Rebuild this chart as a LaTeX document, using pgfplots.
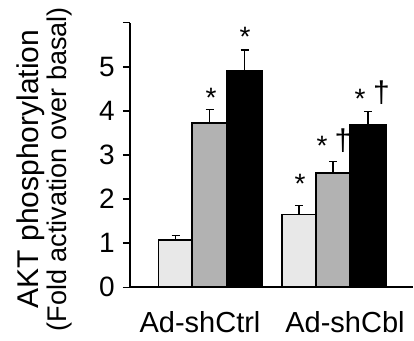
\documentclass[border=0pt]{standalone}
\usepackage{pgfplots}
\pgfplotsset{compat=1.18}
\usepackage{fontspec}
\setmainfont{Liberation Sans}
\definecolor{lightbar}{HTML}{E8E8E8}
\definecolor{midbar}{HTML}{B2B2B2}
\begin{document}
\begin{tikzpicture}
\path[use as bounding box] (0,0) rectangle (414bp,341bp);
\begin{axis}[
  at={(130bp,53.7bp)}, anchor=south west,
  scale only axis, width=283bp, height=264.6bp,
  xmin=130, xmax=413, ymin=0, ymax=6,
  axis x line*=bottom, axis y line*=left,
  axis line style={line width=1.8bp, -},
  ytick={0,1,2,3,4,5,6}, yticklabels={0,1,2,3,4,5,},
  tick align=outside, major tick length=7bp,
  ytick style={line width=1.5bp, black},
  yticklabel style={font=\fontsize{28bp}{28bp}\selectfont, inner sep=0pt, anchor=east, xshift=-8bp},
  xtick={200,345}, xticklabels={Ad-shCtrl,Ad-shCbl},
  xtick style={draw=none},
  xticklabel style={font=\fontsize{29bp}{29bp}\selectfont, inner sep=0pt, anchor=base, yshift=-37.7bp},
  ylabel={AKT phosphorylation},
  ylabel style={font=\fontsize{30bp}{30bp}\selectfont, inner sep=0pt, at={(axis description cs:-0.3233,0.447)}, anchor=base, rotate=0},
  clip=false,
  /pgf/number format/assume math mode=true,
  error bars/y dir=plus, error bars/y explicit,
  error bars/error bar style={line width=1.5bp, black},
  error bars/error mark options={rotate=90, mark size=4bp, line width=1.5bp, black},
]
\addplot[ybar, bar width=34.4, bar shift=0, fill=lightbar, draw=black, line width=1.8bp]
  coordinates {(175.65,1.07) +- (0,0.10) (298.85,1.65) +- (0,0.21)};
\addplot[ybar, bar width=34.4, bar shift=0, fill=midbar, draw=black, line width=1.8bp]
  coordinates {(209.5,3.73) +- (0,0.30) (333.0,2.59) +- (0,0.26)};
\addplot[ybar, bar width=35.6, bar shift=0, fill=black, draw=black, line width=1.8bp]
  coordinates {(244.5,4.91) +- (0,0.47) (367.85,3.68) +- (0,0.31)};
\node[rotate=90, anchor=base, inner sep=0pt, font=\fontsize{27bp}{27bp}\selectfont] at (axis description cs:-0.225,0.447) {(Fold activation over basal)};
\node[anchor=base, inner sep=0pt, font=\fontsize{28bp}{28bp}\selectfont] at (axis cs:211,4.08) {*};
\node[anchor=base, inner sep=0pt, font=\fontsize{28bp}{28bp}\selectfont] at (axis cs:245,5.46) {*};
\node[anchor=base, inner sep=0pt, font=\fontsize{28bp}{28bp}\selectfont] at (axis cs:300,2.12) {*};
\node[anchor=base, inner sep=0pt, font=\fontsize{28bp}{28bp}\selectfont] at (axis cs:322,2.99) {*};
\node[anchor=base, inner sep=0pt, font=\fontsize{28bp}{28bp}\selectfont] at (axis cs:360,4.06) {*};
\node[anchor=center, inner sep=0pt, font=\fontsize{30bp}{30bp}\selectfont] at (axis cs:343,3.316) {†};
\node[anchor=center, inner sep=0pt, font=\fontsize{30bp}{30bp}\selectfont] at (axis cs:381.5,4.407) {†};
\end{axis}
\end{tikzpicture}
\end{document}
